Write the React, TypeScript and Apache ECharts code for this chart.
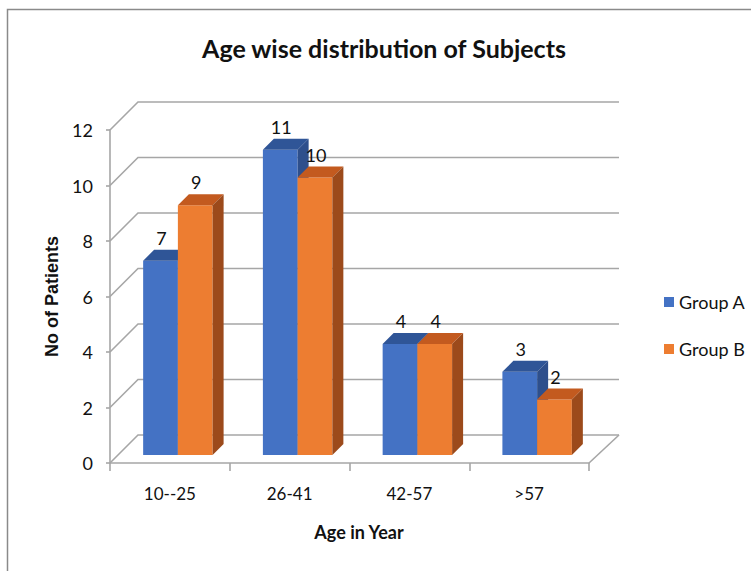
import React, { useEffect, useRef } from "react";
import * as echarts from "echarts";

const categories = ["10--25", "26-41", "42-57", ">57"];
const groupA = [7, 11, 4, 3];
const groupB = [9, 10, 4, 2];
const yTicks = [0, 2, 4, 6, 8, 10, 12];
const seriesNames = ["Group A", "Group B"];

const D = 28; // back wall depth offset
const OFF = 8; // bar front plane offset
const BD = 11; // bar depth
const GRID = "#a6a6a6";
const FONT = "Lato, 'Noto Sans', sans-serif";
const TXT = "#111111";

const palettes = [
  { front: "#4472C4", top: "#2F5597", side: "#2E4F8C" },
  { front: "#ED7D31", top: "#C35A1F", side: "#9C4A1B" },
];

function makeBarRender(which: number) {
  const pal = palettes[which];
  return (params: any, api: any) => {
    const idx = api.value(0);
    const v = api.value(1);
    const base = api.coord([idx, 0]);
    const top = api.coord([idx, v]);
    const band = api.size([1, 0])[0];
    const w = band * 0.29;
    const cx = base[0];
    const xl = (which === 0 ? cx - w : cx) + OFF;
    const xr = xl + w;
    const yb = base[1] - OFF;
    const yt = top[1] - OFF;
    return {
      type: "group",
      children: [
        {
          type: "rect",
          shape: { x: xl, y: yt, width: w, height: yb - yt },
          style: { fill: pal.front },
        },
        {
          type: "polygon",
          shape: {
            points: [
              [xl, yt],
              [xl + BD, yt - BD],
              [xr + BD, yt - BD],
              [xr, yt],
            ],
          },
          style: { fill: pal.top },
        },
        {
          type: "polygon",
          shape: {
            points: [
              [xr, yt],
              [xr + BD, yt - BD],
              [xr + BD, yb - BD],
              [xr, yb],
            ],
          },
          style: { fill: pal.side },
        },
        {
          type: "text",
          x: (xl + xr) / 2 + 1,
          y: yt - 23,
          style: {
            text: String(v),
            fill: TXT,
            font: `18px ${FONT}`,
            align: "center",
            verticalAlign: "middle",
          },
        },
      ],
    };
  };
}

function gridRender(params: any, api: any) {
  const v = api.value(1);
  const p = api.coord([0, v]);
  const cs = params.coordSys;
  const x0 = cs.x;
  const x1 = cs.x + cs.width;
  const y = p[1];
  const children: any[] = [
    {
      type: "polyline",
      shape: {
        points: [
          [x0, y],
          [x0 + D, y - D],
          [x1 + D + 2, y - D],
        ],
      },
      style: { stroke: GRID, lineWidth: 1.6, fill: "none" },
    },
  ];
  if (v === 0) {
    children.push({
      type: "line",
      shape: { x1: x1, y1: y, x2: x1 + D + 2, y2: y - D },
      style: { stroke: GRID, lineWidth: 1.6 },
    });
  }
  return { type: "group", children };
}

export default function App() {
  const ref = useRef<HTMLDivElement>(null);
  useEffect(() => {
    if (!ref.current) return;
    const chart = echarts.init(ref.current, null, { renderer: "svg" });
    chart.setOption({
      animation: false,
      backgroundColor: "#ffffff",
      graphic: [
        {
          type: "polyline",
          shape: {
            points: [
              [7.5, 571],
              [7.5, 9.5],
              [751, 9.5],
            ],
          },
          style: { stroke: "#8a8a8a", lineWidth: 1.5, fill: "none" },
          z: 0,
        },
        {
          type: "text",
          x: 384,
          y: 48,
          style: {
            text: "Age wise distribution of Subjects",
            fill: TXT,
            font: `bold 25px ${FONT}`,
            align: "center",
            verticalAlign: "middle",
          },
        },
      ],
      legend: {
        orient: "vertical",
        left: 659,
        top: 288,
        itemWidth: 10,
        itemHeight: 10,
        itemGap: 29,
        icon: "rect",
        data: seriesNames,
        textStyle: { fontFamily: FONT, fontSize: 18, color: TXT },
      },
      grid: { left: 110, top: 130, width: 479, height: 333 },
      xAxis: {
        type: "category",
        data: categories,
        axisLine: { show: true, lineStyle: { color: GRID, width: 1.6 } },
        axisTick: { show: true, length: 8, lineStyle: { color: GRID, width: 1.6 } },
        axisLabel: { fontFamily: FONT, fontSize: 17, color: TXT, margin: 22 },
        splitLine: { show: false },
        name: "Age in Year",
        nameLocation: "middle",
        nameGap: 60,
        nameTextStyle: {
          fontFamily: FONT,
          fontSize: 18,
          fontWeight: "bold",
          color: TXT,
          padding: [0, 0, 0, 19],
        },
      },
      yAxis: {
        type: "value",
        min: 0,
        max: 12,
        interval: 2,
        axisLine: { show: true, lineStyle: { color: GRID, width: 1.6 } },
        axisTick: { show: true, length: 4, lineStyle: { color: GRID, width: 1.6 } },
        axisLabel: { fontFamily: FONT, fontSize: 18, color: TXT, margin: 17 },
        splitLine: { show: false },
        name: "No of Patients",
        nameLocation: "middle",
        nameRotate: 90,
        nameGap: 45,
        nameTextStyle: {
          fontFamily: "'Liberation Sans', Arial, sans-serif",
          fontSize: 18,
          fontWeight: "bold",
          color: TXT,
        },
      },
      series: [
        {
          type: "custom",
          name: "grid",
          silent: true,
          renderItem: gridRender,
          data: yTicks.map((v) => [0, v]),
          encode: { x: 0, y: 1 },
          z: 1,
        },
        {
          type: "custom",
          name: seriesNames[0],
          renderItem: makeBarRender(0),
          data: groupA.map((v, i) => [i, v]),
          encode: { x: 0, y: 1 },
          itemStyle: { color: palettes[0].front },
          z: 2,
        },
        {
          type: "custom",
          name: seriesNames[1],
          renderItem: makeBarRender(1),
          data: groupB.map((v, i) => [i, v]),
          encode: { x: 0, y: 1 },
          itemStyle: { color: palettes[1].front },
          z: 3,
        },
      ],
    });
    return () => chart.dispose();
  }, []);
  return (
    <div
      ref={ref}
      style={{ position: "absolute", left: 0, top: 0, width: 751, height: 571 }}
    />
  );
}
